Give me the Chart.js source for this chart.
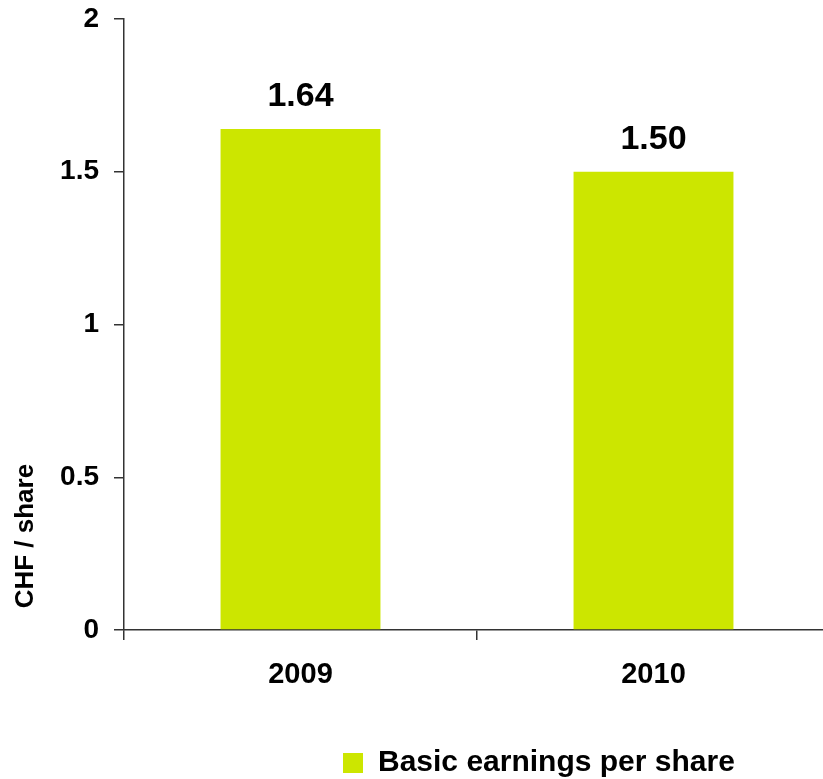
<!DOCTYPE html>
<html>
<head>
<meta charset="utf-8">
<script src="https://cdn.jsdelivr.net/npm/chart.js@4"></script>
<style>
  html, body { margin: 0; padding: 0; background: #fff; overflow: hidden; }
  /* 圖表右端超出畫面一點 */
  #wrap { width: 830px; height: 779px; }
</style>
</head>
<body>
<div id="wrap"><canvas id="epsChart"></canvas></div>
<script>
// 每股盈餘資料
const years = ['2009', '2010'];
const eps = [1.64, 1.50];
const yTickLabels = ['0', '0.5', '1', '1.5', '2'];
const seriesName = 'Basic earnings per share';
const yTitle = 'CHF / share';

const font = "'Liberation Sans', Arial, sans-serif";
const axisColor = '#333';
const barColor = '#cce600';

// 長條上方數值
const valueLabels = {
  id: 'valueLabels',
  afterDatasetsDraw(chart) {
    const ctx = chart.ctx;
    const meta = chart.getDatasetMeta(0);
    ctx.save();
    ctx.font = 'bold 34px ' + font;
    ctx.fillStyle = '#000';
    ctx.textAlign = 'center';
    ctx.textBaseline = 'alphabetic';
    meta.data.forEach((bar, i) => {
      ctx.fillText(eps[i].toFixed(2), bar.x, bar.y - 23);
    });
    ctx.restore();
  }
};

// 圖例往右移
const legendShift = {
  id: 'legendShift',
  afterLayout(chart) {
    chart.legend.left = 333;
  }
};

new Chart(document.getElementById('epsChart'), {
  type: 'bar',
  data: {
    labels: years,
    datasets: [{
      label: seriesName,
      data: eps,
      backgroundColor: barColor,
      borderWidth: 0,
      categoryPercentage: 1,
      barPercentage: 0.453
    }]
  },
  options: {
    responsive: true,
    maintainAspectRatio: false,
    animation: false,
    layout: { padding: { top: 19, right: 0, bottom: -9, left: 0 } },
    plugins: {
      tooltip: { enabled: false },
      legend: {
        position: 'bottom',
        align: 'start',
        labels: {
          boxWidth: 20,
          boxHeight: 20,
          color: '#000',
          font: { family: font, size: 30, weight: 'bold' }
        }
      }
    },
    scales: {
      x: {
        offset: true,
        afterFit: s => { s.height = 108; },
        grid: { offset: true, drawOnChartArea: false, tickLength: 10, color: axisColor, lineWidth: 1.5 },
        border: { color: axisColor, width: 1.5 },
        ticks: { color: '#000', padding: 18, font: { family: font, size: 29, weight: 'bold' } }
      },
      y: {
        min: 0,
        max: 2,
        afterFit: s => { s.width = 124; s.paddingTop = 0; },
        grid: { drawOnChartArea: false, tickLength: 10, color: axisColor, lineWidth: 1.5 },
        border: { color: axisColor, width: 1.5 },
        ticks: {
          stepSize: 0.5,
          padding: 15,
          color: '#000',
          font: { family: font, size: 28, weight: 'bold' },
          callback: (v, i) => yTickLabels[i]
        },
        title: {
          display: true,
          text: '   ' + yTitle,
          align: 'start',
          color: '#000',
          padding: { top: 10, bottom: 0 },
          font: { family: font, size: 26, weight: 'bold' }
        }
      }
    }
  },
  plugins: [valueLabels, legendShift]
});
</script>
</body>
</html>
